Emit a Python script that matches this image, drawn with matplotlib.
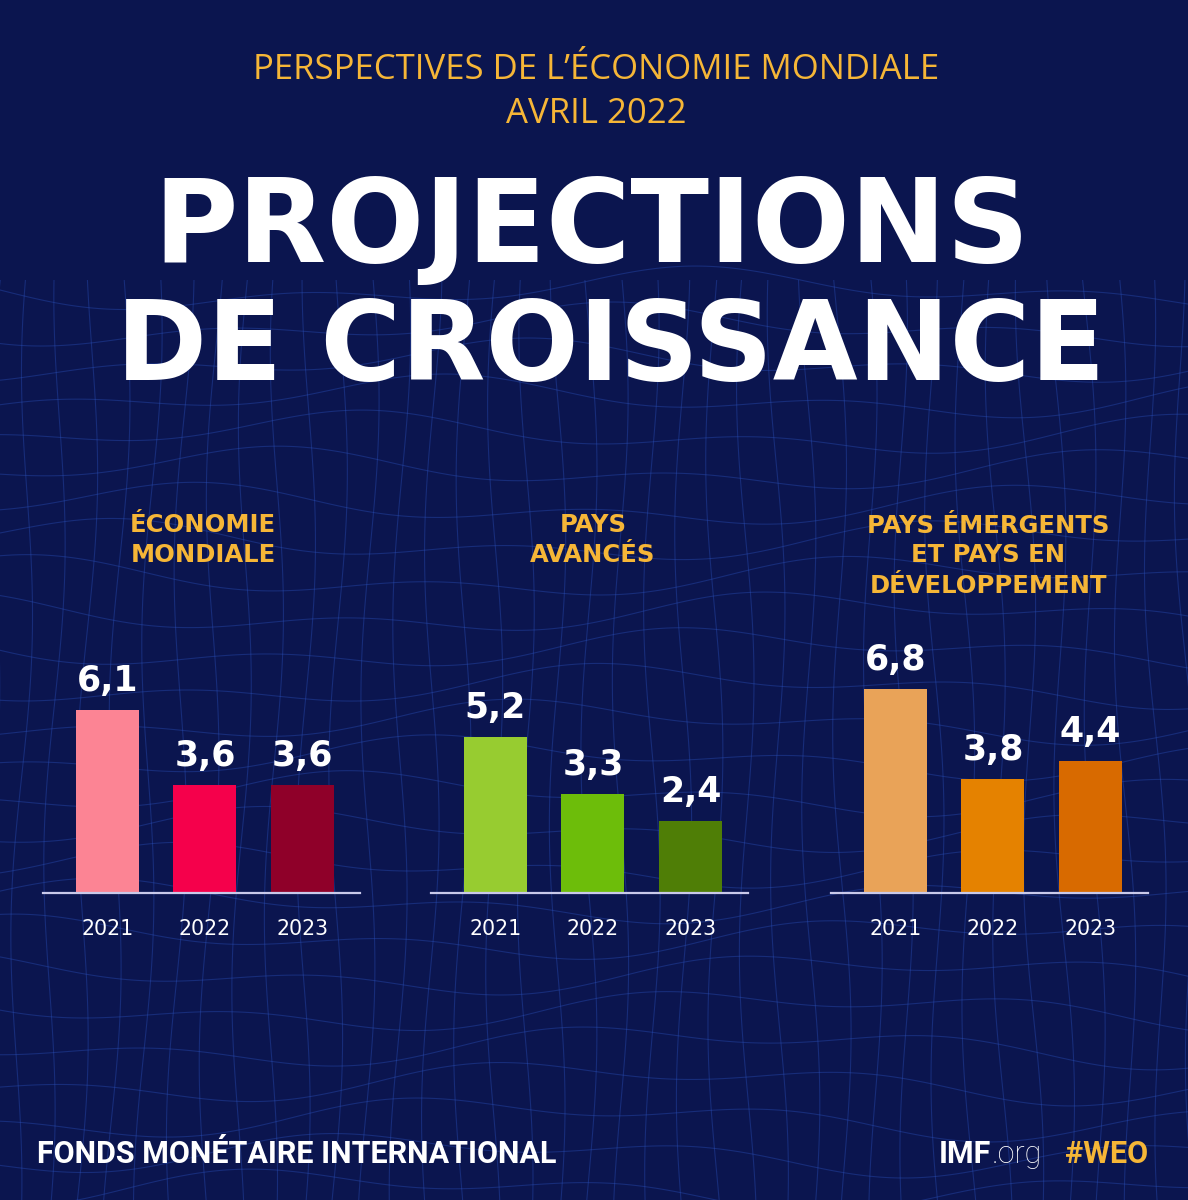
import numpy as np
import matplotlib
matplotlib.use("Agg")
import matplotlib.pyplot as plt
from matplotlib.collections import LineCollection

# ---------------- data ----------------
years = ["2021", "2022", "2023"]
panel_titles = ["ÉCONOMIE\nMONDIALE", "PAYS\nAVANCÉS", "PAYS ÉMERGENTS\nET PAYS EN\nDÉVELOPPEMENT"]
world_values = [6.1, 3.6, 3.6]
advanced_values = [5.2, 3.3, 2.4]
emerging_values = [6.8, 3.8, 4.4]
value_labels = [["6,1", "3,6", "3,6"], ["5,2", "3,3", "2,4"], ["6,8", "3,8", "4,4"]]
world_colors = ["#fc8494", "#f5004b", "#8f0029"]
advanced_colors = ["#97cc30", "#6dbd0a", "#4f7e06"]
emerging_colors = ["#e9a358", "#e58200", "#d86a00"]

W, H = 1188, 1200
BG = "#0b154f"
GOLD = "#f6b637"

fig = plt.figure(figsize=(W / 100, H / 100), dpi=100, facecolor=BG)

# background with subtle wireframe
bg = fig.add_axes([0, 0, 1, 1], zorder=0)
bg.set_xlim(0, W)
bg.set_ylim(H, 0)
bg.set_facecolor(BG)
bg.axis("off")
segs = []
xs = np.linspace(-60, W + 60, 300)
for k in range(26):
    y0 = 290 + k * 36
    ys = y0 + 14 * np.sin(xs / 150.0 + k * 0.6) + 10 * np.sin(xs / 63.0 + k * 1.3)
    segs.append(np.column_stack([xs, ys]))
ys_v = np.linspace(280, H + 20, 200)
for k in range(-2, 42):
    x0 = k * 31
    xv = x0 + 8 * np.sin(ys_v / 90.0 + k * 0.8) + (x0 - W / 2) * 0.03 * (ys_v - 280) / 900
    segs.append(np.column_stack([xv, ys_v]))
lc = LineCollection(segs, colors="#2d55c4", linewidths=0.8, alpha=0.36)
bg.add_collection(lc)


def fx(px):
    return px / W


def fy(py):
    return 1 - py / H


HEAVY = dict(family="DejaVu Sans", weight="bold")

# header texts
fig.text(fx(596), fy(79), "PERSPECTIVES DE L’ÉCONOMIE MONDIALE", color=GOLD,
         fontsize=25, family="Open Sans", weight="normal", ha="center", va="baseline", zorder=3)
fig.text(fx(596), fy(123), "AVRIL 2022", color=GOLD,
         fontsize=25, family="Open Sans", weight="normal", ha="center", va="baseline", zorder=3)
fig.text(fx(592), fy(262), "PROJECTIONS", color="white", fontsize=83,
         ha="center", va="baseline", zorder=3, **HEAVY)
fig.text(fx(611), fy(380), "DE CROISSANCE", color="white", fontsize=79,
         ha="center", va="baseline", zorder=3, **HEAVY)

# panels
values_all = [world_values, advanced_values, emerging_values]
colors_all = [world_colors, advanced_colors, emerging_colors]
left_px = [43, 431, 831]
title_px = [(203, [532, 562]), (593, [532, 562]), (988, [533, 562, 593])]
base_py = 893
ax_w = 317
ax_h = 300
x = np.arange(3)
for i in range(3):
    ax = fig.add_axes([fx(left_px[i]), fy(base_py), ax_w / W, ax_h / H], zorder=2)
    ax.set_facecolor("none")
    ax.set_xlim(-0.6615, 2.59)
    ax.set_ylim(0, 10)
    ax.bar(x, values_all[i], width=0.646, color=colors_all[i], zorder=2)
    for s in ["top", "right", "left"]:
        ax.spines[s].set_visible(False)
    ax.spines["bottom"].set_color("#c9c9ea")
    ax.spines["bottom"].set_linewidth(1.6)
    ax.set_yticks([])
    ax.set_xticks(x)
    ax.set_xticklabels(years, color="white", fontsize=14.8, family="DejaVu Sans")
    ax.tick_params(axis="x", length=0, pad=30)
    for lbl in ax.get_xticklabels():
        lbl.set_va("baseline")
    for j, v in enumerate(values_all[i]):
        ax.annotate(value_labels[i][j], (x[j], v), xytext=(0, 13.7), textcoords="offset points",
                    ha="center", va="baseline", color="white", fontsize=25, **HEAVY)
    cx, lines_y = title_px[i]
    for line, ly in zip(panel_titles[i].split("\n"), lines_y):
        fig.text(fx(cx), fy(ly), line, color=GOLD, fontsize=17.5,
                 ha="center", va="baseline", zorder=3, **HEAVY)

# footer
fig.text(fx(37), fy(1163), "FONDS MONÉTAIRE INTERNATIONAL", color="white", fontsize=22,
         family="Roboto", weight="bold", ha="left", va="baseline", zorder=3)
t_imf = fig.text(fx(939), fy(1163), "IMF", color="white", fontsize=22, family="Roboto",
                 weight="bold", ha="left", va="baseline", zorder=3)
fig.canvas.draw()
bb = t_imf.get_window_extent()
fig.text(bb.x1 / W + fx(1), fy(1163), ".org", color="white", fontsize=22, family="Roboto",
         weight="light", ha="left", va="baseline", zorder=3)
fig.text(fx(1148), fy(1163), "#WEO", color=GOLD, fontsize=22, family="Roboto",
         weight="bold", ha="right", va="baseline", zorder=3)

fig.savefig("out.png", dpi=100, facecolor=BG)
